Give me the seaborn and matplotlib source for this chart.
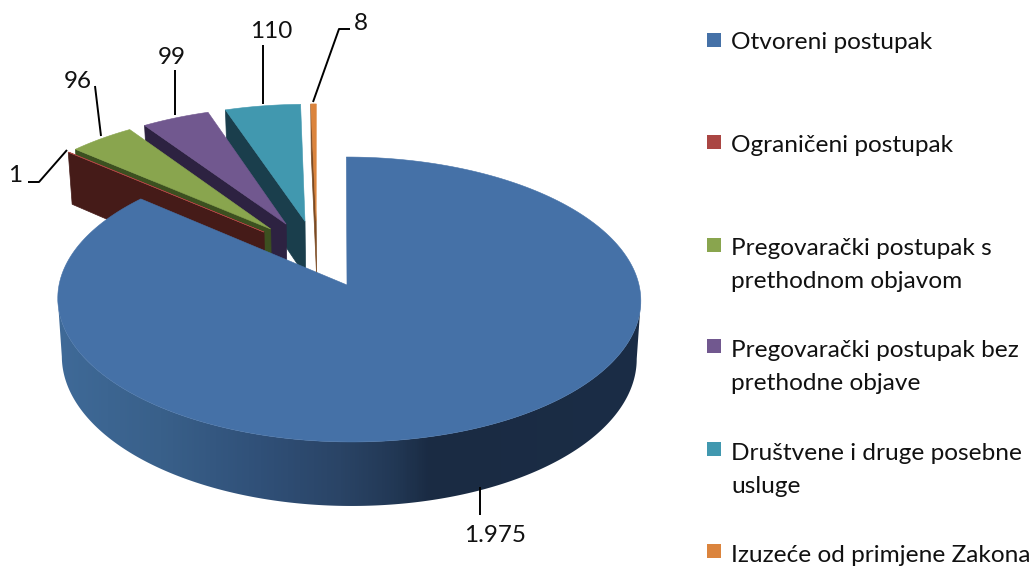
import numpy as np
import matplotlib
matplotlib.use("Agg")
import matplotlib.pyplot as plt
import seaborn as sns
from matplotlib.colors import LinearSegmentedColormap
from matplotlib.patches import Polygon, Rectangle

# ---- data ----
categories = ["Otvoreni postupak", "Ograničeni postupak",
              "Pregovarački postupak s\nprethodnom objavom",
              "Pregovarački postupak bez\nprethodne objave",
              "Društvene i druge posebne\nusluge",
              "Izuzeće od primjene Zakona"]
values = [1975, 1, 96, 99, 110, 8]
top_colors = ["#4571A7", "#AA4643", "#89A54E", "#71588F", "#4198AF", "#DB843D"]
side_colors = ["#2B4568", "#451B18", "#3C5020", "#2D2241", "#1A3E4C", "#7B4A22"]

# ---- look ----
sns.set_theme(style="white")
plt.rcParams["font.family"] = ["Lato", "DejaVu Sans"]
palette = sns.color_palette(top_colors)
side_palette = sns.color_palette(side_colors)

fig, ax = plt.subplots(figsize=(10.35, 5.70), dpi=100)
fig.subplots_adjust(0, 0, 1, 1)

# ---- projected, exploded pie, built from the values ----
CX, CY, A, B, K, DEPTH, SHRINK, EXPLODE = 347.0, 285.0, 290.0, 141.0, 0.1017, 57.5, 0.986, 0.25
SHEAR, RIM_BIAS = 2.5, 0.007

vals = np.array(values, float)
edges = np.concatenate([[0], np.cumsum(vals)]) / vals.sum() * 2 * np.pi
mids = (edges[:-1] + edges[1:]) / 2
centre = -EXPLODE * np.array([np.sin(mids[0]), np.cos(mids[0])])


def project(u, v, low=False):
    w = 1 + K * v
    x = CX + A * u / w - SHEAR * v
    y = CY - B * v / w
    if low:
        x = CX + (x - CX) * SHRINK
        y = y + DEPTH / w
    return x, y


def apex(i):
    return centre + EXPLODE * np.array([np.sin(mids[i]), np.cos(mids[i])])


def arc(i, t0, t1, n=240):
    t = np.linspace(t0, t1, n)
    a = apex(i)
    bias = RIM_BIAS if i == 0 else 0.0
    return a[0] + bias + np.sin(t), a[1] + np.cos(t)


# stops of the shading along the near rim of the big slice
shade_x = np.array([55, 160, 260, 340, 395, 430, 645])
shade_hex = ["#3F6A98", "#39608A", "#305078", "#2A4466", "#223855", "#1A2B43", "#1B2D46"]
shade_pos = (shade_x - shade_x[0]) / (shade_x[-1] - shade_x[0])
shade_cmap = LinearSegmentedColormap.from_list("rim", list(zip(shade_pos, shade_hex)))

# back to front; the big slice is last
for i in list(range(len(values) - 1, 0, -1)) + [0]:
    a = apex(i)
    t0, t1 = edges[i], edges[i + 1]
    if i > 0:
        # cut face on the leading edge
        ou, ov = arc(i, t0, t0, 2)
        x0, y0 = project(a[0], a[1])
        x1, y1 = project(ou[0], ov[0])
        x2, y2 = project(ou[0], ov[0], low=True)
        x3, y3 = project(a[0], a[1], low=True)
        ax.fill([x0, x1, x2, x3], [y0, y1, y2, y3], color=side_palette[i], lw=0.5, zorder=2)
    else:
        # rounded rim between the two silhouette points, shaded by screen position
        u, v = arc(0, np.radians(60), np.radians(300), 800)
        xt, yt = project(u, v)
        i_r, i_l = int(np.argmax(xt)), int(np.argmin(xt))
        u, v = u[i_r:i_l + 1], v[i_r:i_l + 1]
        xt, yt = project(u, v)
        xb, yb = project(u, v, low=True)
        rim = Polygon(np.c_[np.r_[xt, xb[::-1]], np.r_[yt, yb[::-1]]], closed=True,
                      facecolor="none", edgecolor="none", transform=ax.transData)
        ax.add_patch(rim)
        grad = np.linspace(0, 1, 600)[None, :]
        im = ax.imshow(grad, cmap=shade_cmap, aspect="auto", zorder=2,
                       extent=(shade_x[0], shade_x[-1], 520, 250))
        im.set_clip_path(rim)
    u, v = arc(i, t0, t1)
    xs, ys = project(np.r_[a[0], u], np.r_[a[1], v])
    ax.fill(xs, ys, color=palette[i], lw=0.4, zorder=3)

# ---- value labels with leader lines ----
label_texts = [f"{v:,}".replace(",", ".") for v in values]
label_xy = [(495, 536), (15, 176), (78, 82), (172, 57), (271, 32), (361, 23)]
leaders = [[(480, 487), (480, 515)],
           [(67, 150), (39, 182), (28, 182)],
           [(101, 136), (95, 86)],
           [(175, 115), (175, 70)],
           [(263, 104), (263, 45)],
           [(313, 102), (339, 29), (350, 29)]]
for txt, xy, path in zip(label_texts, label_xy, leaders):
    ax.plot(*zip(*path), color="black", lw=1.4, zorder=4, solid_capstyle="butt")
    ax.text(*xy, txt, fontsize=17.5, color="#111111", ha="center", va="center", zorder=5)

# ---- legend ----
swatch_rows = [40, 142, 245, 346, 449, 551]
text_tops = [32, 135, 238, 340, 443, 545]
for name, col, y, ty in zip(categories, palette, swatch_rows, text_tops):
    ax.add_patch(Rectangle((707, y - 7), 14, 14, facecolor=col, edgecolor="none"))
    ax.text(731, ty, name, fontsize=17.6, color="#111111", ha="left", va="top",
            linespacing=1.68)

ax.set_xlim(0, 1035)
ax.set_ylim(570, 0)
ax.axis("off")

fig.savefig("out.png", dpi=100)
